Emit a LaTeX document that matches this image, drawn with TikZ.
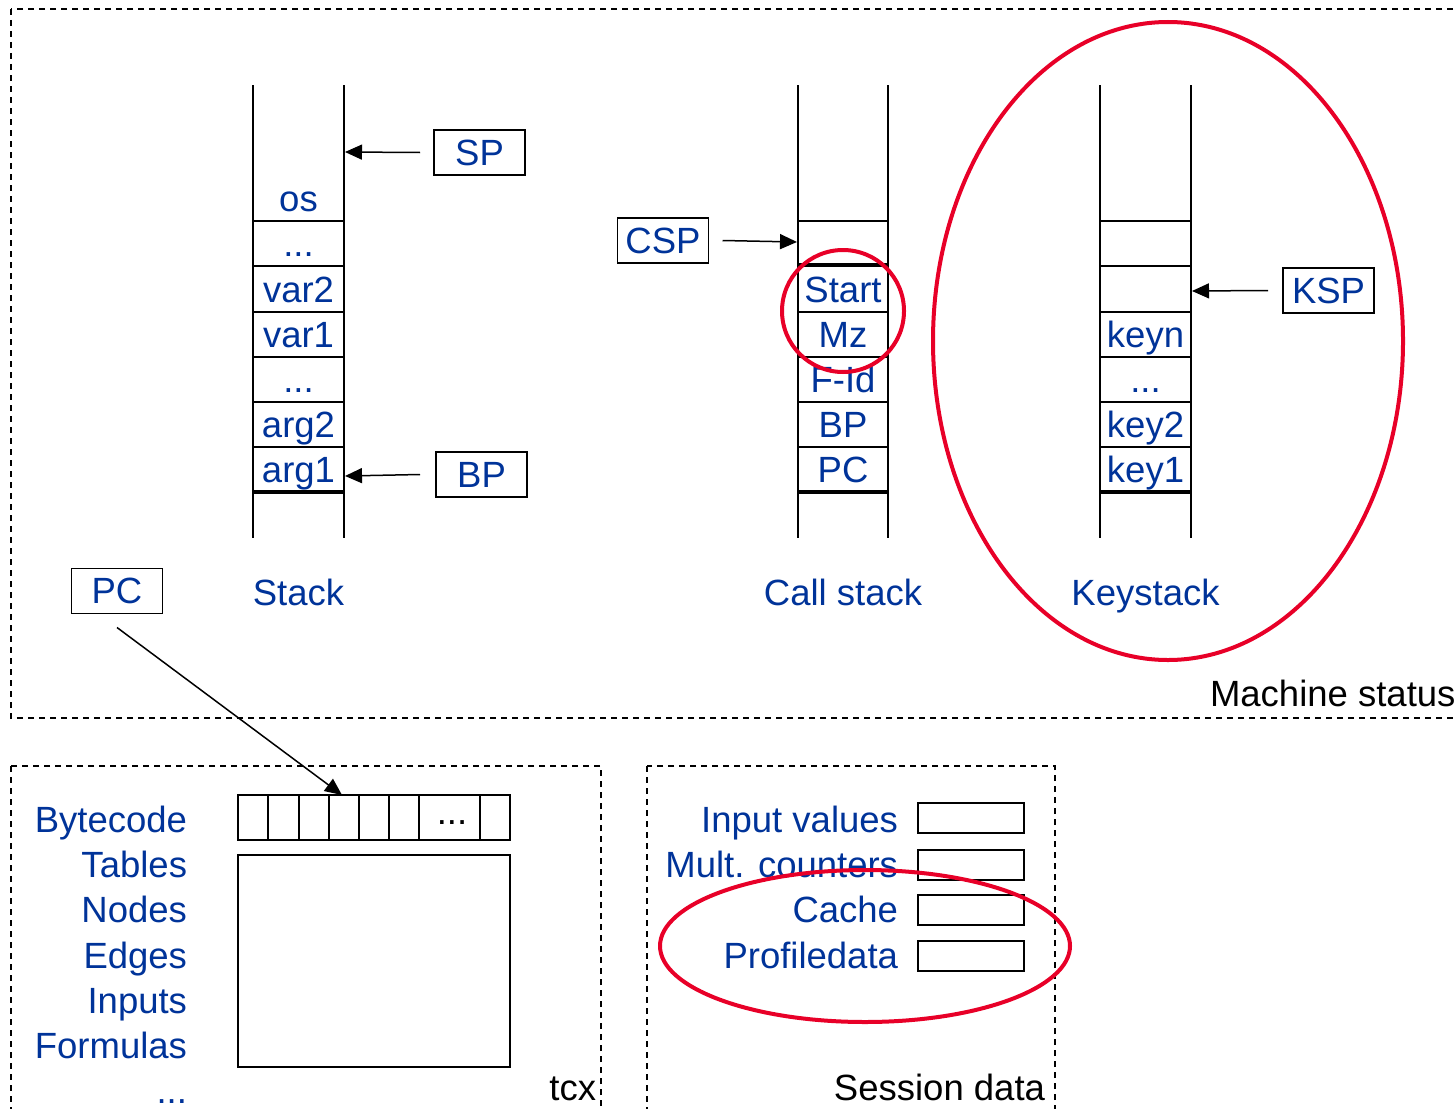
\documentclass[tikz,border=0pt]{standalone}
\usepackage{fontspec}
\setmainfont{Liberation Sans}
\usetikzlibrary{arrows.meta,shapes.geometric}
\definecolor{txtblue}{RGB}{0,51,153}
\definecolor{hired}{RGB}{232,0,40}
\begin{document}
\begin{tikzpicture}[x=1pt,y=-1pt,
  every node/.style={font=\fontsize{36.5}{44}\selectfont, inner sep=0pt, outer sep=0pt},
  lbl/.style={text=txtblue, anchor=base},
  rlbl/.style={text=txtblue, anchor=base east},
  caption/.style={text=black},
  ptrbox/.style={draw, line width=1.5pt, minimum width=91pt, minimum height=45pt, text=txtblue},
  wall/.style={line width=1.8pt},
  thickline/.style={line width=4.5pt},
  region/.style={line width=1.5pt, dash pattern=on 6pt off 5pt},
  ptr/.style={-{Triangle[length=17pt,width=15pt]}, line width=1.5pt},
  hilite/.style={draw=hired, line width=4pt, ellipse, inner sep=0pt}
]
\useasboundingbox (0,0) rectangle (1455,1108);
\clip (0,0) rectangle (1455,1108);

% ---------- Machine status region ----------
\draw[region] (11,9) rectangle (1475,718);
\node[caption, anchor=base west] (mstatus) at (1210,706) {Machine status};

% ---------- Stack ----------
\draw[wall] (253,85) -- (253,538);
\draw[wall] (344,85) -- (344,538);
\foreach \y in {221,266,312,357,402,447} \draw[wall] (253,\y) -- (344,\y);
\draw[thickline] (253,492) -- (344,492);
\node[lbl] (sOs)   at (298.5,211) {os};
\node[lbl] (sDots1) at (298.5,256) {...};
\node[lbl] (sVar2) at (298.5,302) {var2};
\node[lbl] (sVar1) at (298.5,347) {var1};
\node[lbl] (sDots2) at (298.5,392) {...};
\node[lbl] (sArg2) at (298.5,437) {arg2};
\node[lbl] (sArg1) at (298.5,482) {arg1};
\node[lbl] (stackLbl) at (298.5,605) {Stack};

\node[ptrbox] (SP) at (479.5,152.5) {SP};
\coordinate (spTip) at (345,152);
\draw[ptr] ([xshift=-14pt]SP.west) -- (spTip);
\node[ptrbox] (BP) at (481.5,474.5) {BP};
\coordinate (bpTip) at (345,476);
\draw[ptr] ([xshift=-16pt]BP.west) -- (bpTip);

% ---------- Call stack ----------
\draw[wall] (798,85) -- (798,538);
\draw[wall] (888,85) -- (888,538);
\foreach \y in {221,312,357,402,447} \draw[wall] (798,\y) -- (888,\y);
\draw[thickline] (798,265) -- (888,265);
\draw[thickline] (798,492) -- (888,492);
\node[lbl] (cStart) at (843,302) {Start};
\node[lbl] (cMz)    at (843,347) {Mz};
\node[lbl] (cFid)   at (843,392) {F-Id};
\node[lbl] (cBP)    at (843,437) {BP};
\node[lbl] (cPC)    at (843,482) {PC};
\node[lbl] (callLbl) at (843,605) {Call stack};

\node[ptrbox] (CSP) at (663,240.5) {CSP};
\coordinate (cspTip) at (797,242);
\draw[ptr] ([xshift=14pt]CSP.east) -- (cspTip);

% ---------- Keystack ----------
\draw[wall] (1100,85) -- (1100,538);
\draw[wall] (1191,85) -- (1191,538);
\foreach \y in {221,266,312,357,402,447} \draw[wall] (1100,\y) -- (1191,\y);
\draw[thickline] (1100,492) -- (1191,492);
\node[lbl] (kN)    at (1145.5,347) {keyn};
\node[lbl] (kDots) at (1145.5,392) {...};
\node[lbl] (k2)    at (1145.5,437) {key2};
\node[lbl] (k1)    at (1145.5,482) {key1};
\node[lbl] (keyLbl) at (1145.5,605) {Keystack};

\node[ptrbox] (KSP) at (1328.5,290.5) {KSP};
\coordinate (kspTip) at (1192,291);
\draw[ptr] ([xshift=-15pt]KSP.west) -- (kspTip);

% ---------- highlights in top ----------
\node[hilite, minimum width=122pt, minimum height=122pt] (hlStart) at (843,311) {};
\node[hilite, minimum width=470pt, minimum height=638pt] (hlKey) at (1168,341) {};

% ---------- tcx region ----------
\draw[region] (11,766) rectangle (601,1125);
\node[caption, anchor=base east] (tcx) at (596,1100) {tcx};
\node[rlbl] (tBytecode) at (187,832) {Bytecode};
\node[rlbl] (tTables)   at (187,877) {Tables};
\node[rlbl] (tNodes)    at (187,922) {Nodes};
\node[rlbl] (tEdges)    at (187,968) {Edges};
\node[rlbl] (tInputs)   at (187,1013) {Inputs};
\node[rlbl] (tFormulas) at (187,1058) {Formulas};
\node[rlbl] (tDots)     at (187,1103) {...};

\draw[wall] (238,795) rectangle (510,840);
\foreach \x in {268,299,329,359,389,419,480} \draw[wall] (\x,795) -- (\x,840);
\node[anchor=base] (bcDots) at (452,824) {...};
\draw[wall] (238,855) rectangle (510,1067);

\node[ptrbox] (PC) at (117,591) {PC};
\coordinate (bcTip) at (342,795);
\draw[ptr] ([yshift=-14pt]PC.south) -- (bcTip);

% ---------- Session data region ----------
\draw[region] (647,766) rectangle (1055,1125);
\node[caption, anchor=base east] (sess) at (1045,1100) {Session data};
\node[rlbl] (dInput) at (898,832) {Input values};
\node[rlbl] (dMult)  at (898,877) {Mult. counters};
\node[rlbl] (dCache) at (898,922) {Cache};
\node[rlbl] (dProf)  at (898,968) {Profiledata};
\foreach \y in {803,850,895,941} \draw[wall] (918,\y) rectangle (1024,\y+30);

\node[hilite, minimum width=410pt, minimum height=152pt] (hlSess) at (865,946) {};
\end{tikzpicture}
\end{document}
